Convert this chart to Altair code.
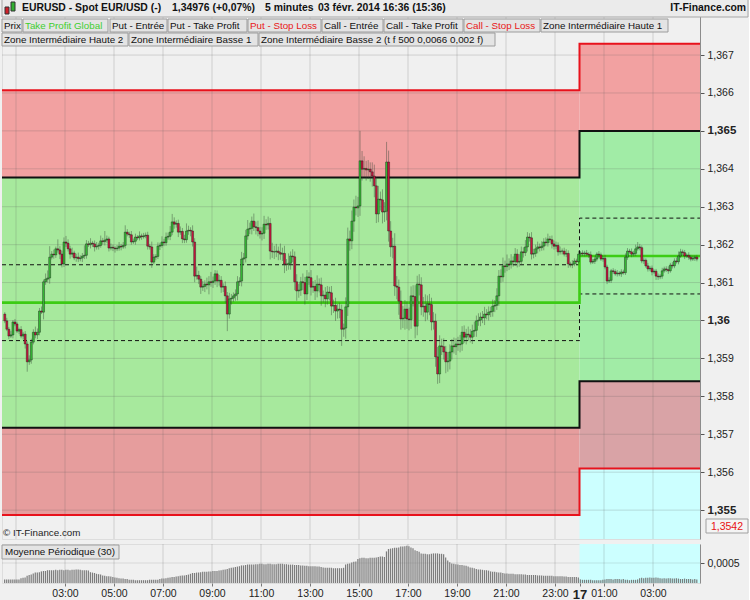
import altair as alt
import pandas as pd

# ---------------------------------------------------------------- data
BASE = 1.35          # prices below are given in pips above this level
PIP = 0.0001
FIRST_BAR = 0.5      # first bar at 00:30, hours counted from midnight of the 16th
STEP = 5 / 60        # 5-minute bars
MIDNIGHT = 24.0      # start of the 17th
X_DOMAIN = [0.4286, 28.918]
Y_DOMAIN = [1.354238, 1.368478]
MA_DOMAIN = [0.0, 0.000975]

open_first = 101.7
close_pips = [
    99.9, 97.7, 95.9, 96.2, 99.6, 99.1, 97.2, 97.6, 95.9, 96.4,
    93.8, 89.1, 89.6, 94.3, 96.9, 96.2, 96.9, 102.5, 102.2, 110.2,
    110.9, 111.2, 116.7, 117.5, 117.3, 118.9, 118.6, 117.5, 114.9, 120.7,
    120.4, 118.9, 117.5, 117.8, 116.5, 116.7, 116.3, 116.5, 117.0, 117.2,
    120.2, 120.0, 120.4, 120.2, 119.4, 119.6, 119.8, 121.0, 120.8, 121.2,
    121.5, 119.1, 119.3, 119.1, 118.9, 119.1, 119.6, 119.4, 119.8, 123.3,
    122.8, 122.6, 120.7, 120.9, 122.0, 121.8, 122.3, 122.1, 122.3, 122.5,
    119.6, 119.4, 115.4, 116.7, 116.9, 119.6, 119.8, 120.7, 120.5, 122.0,
    122.2, 123.3, 126.0, 125.4, 125.6, 123.3, 123.5, 121.5, 121.3, 123.6,
    123.8, 123.6, 120.7, 111.7, 111.9, 110.9, 108.8, 109.0, 109.6, 109.4,
    110.2, 110.0, 110.4, 112.3, 110.4, 110.6, 108.8, 109.0, 106.5, 101.7,
    105.7, 105.9, 106.5, 107.0, 110.2, 110.4, 116.2, 116.5, 122.3, 124.1,
    124.3, 126.2, 124.7, 124.5, 123.6, 122.8, 123.0, 125.4, 125.2, 125.6,
    118.3, 118.1, 118.1, 118.3, 117.9, 117.5, 117.7, 114.9, 114.7, 115.1,
    117.0, 116.8, 110.2, 107.8, 108.0, 110.2, 110.0, 107.0, 111.5, 111.3,
    108.8, 109.0, 107.8, 109.6, 109.4, 106.5, 106.7, 105.7, 107.5, 107.3,
    103.8, 104.0, 102.5, 103.0, 102.8, 97.7, 98.0, 103.6, 121.5, 121.0,
    126.2, 129.9, 129.7, 130.2, 142.1, 139.9, 140.1, 139.7, 139.9, 139.2,
    138.1, 135.5, 128.1, 132.0, 131.8, 128.6, 128.8, 141.8, 123.6, 119.4,
    119.6, 109.1, 108.8, 105.1, 100.4, 100.6, 103.0, 100.4, 100.2, 106.5,
    106.3, 98.5, 109.6, 109.4, 103.6, 103.8, 102.2, 104.4, 104.2, 99.6,
    99.8, 90.4, 85.9, 93.3, 93.1, 91.7, 89.1, 89.3, 91.7, 93.3,
    93.1, 93.8, 93.6, 93.8, 96.9, 95.6, 96.4, 96.2, 95.6, 97.2,
    97.4, 99.9, 100.1, 100.9, 100.7, 101.7, 101.5, 102.2, 102.4, 103.8,
    104.0, 106.5, 111.7, 111.5, 114.4, 114.2, 114.9, 114.7, 115.7, 115.5,
    117.5, 115.4, 115.6, 118.1, 117.9, 119.4, 122.0, 121.8, 117.5, 117.7,
    118.9, 119.4, 119.2, 119.6, 120.7, 120.5, 121.5, 121.3, 120.2, 119.6,
    119.8, 118.1, 118.3, 118.3, 117.5, 117.7, 114.9, 114.7, 114.9, 115.7,
    115.5, 117.5, 117.8, 117.6, 117.8, 117.5, 117.3, 115.4, 115.6, 116.2,
    117.5, 117.3, 116.2, 116.4, 114.1, 110.4, 110.6, 113.1, 112.9, 112.3,
    112.5, 112.3, 112.8, 112.6, 116.7, 118.3, 118.1, 117.5, 117.7, 118.9,
    119.4, 119.2, 115.7, 115.9, 114.4, 113.6, 113.8, 112.8, 113.0, 111.7,
    111.5, 111.7, 113.1, 113.6, 113.4, 113.1, 114.6, 114.4, 115.7, 115.5,
    117.0, 118.1, 117.9, 117.0, 117.2, 116.7, 116.2, 116.4, 116.7, 116.2,
]
# wick lengths beyond the candle body, in pips
upper_wick = [
    0.5, 0.8, 0.6, 1.0, 0.5, 0.8, 0.6, 0.5, 0.9, 0.6,
    0.8, 0.7, 1.2, 0.9, 0.8, 1.5, 1.0, 0.8, 1.2, 0.6,
    1.5, 2.0, 2.9, 0.8, 1.2, 0.6, 2.5, 1.0, 0.9, 1.2,
    1.6, 1.0, 0.8, 1.4, 0.6, 0.9, 1.2, 0.7, 0.8, 2.6,
    1.0, 0.8, 1.3, 0.6, 0.9, 1.1, 0.7, 1.4, 0.8, 2.4,
    0.9, 0.6, 1.0, 0.7, 0.5, 0.8, 1.1, 0.6, 0.9, 1.8,
    0.8, 0.6, 1.0, 0.7, 0.9, 0.5, 1.2, 0.6, 0.8, 0.7,
    0.9, 0.6, 1.4, 0.8, 0.6, 1.0, 0.7, 1.5, 0.8, 1.2,
    1.0, 1.6, 2.1, 1.2, 0.8, 1.0, 1.3, 0.9, 1.1, 2.0,
    1.2, 0.8, 1.5, 1.0, 2.3, 1.2, 0.8, 1.4, 1.0, 1.7,
    1.5, 2.6, 1.2, 1.0, 0.9, 1.4, 1.1, 0.8, 1.3, 1.0,
    1.6, 1.1, 0.9, 1.2, 1.5, 1.0, 1.9, 1.3, 1.6, 2.4,
    1.5, 1.2, 2.0, 1.4, 1.8, 1.1, 1.6, 2.2, 1.3, 1.8,
    1.4, 2.2, 1.6, 1.9, 1.2, 2.4, 1.5, 2.0, 1.3, 2.6,
    1.2, 1.8, 1.4, 2.0, 1.6, 1.3, 2.2, 1.5, 1.8, 1.2,
    2.0, 1.4, 1.7, 2.3, 1.5, 1.9, 1.2, 2.1, 1.6, 1.4,
    1.8, 1.5, 2.0, 1.3, 1.7, 1.4, 1.2, 2.5, 3.0, 2.2,
    2.8, 2.0, 3.0, 2.4, 7.9, 2.6, 3.2, 2.0, 2.4, 1.8,
    2.5, 3.0, 2.2, 3.5, 2.0, 2.8, 2.4, 5.3, 3.0, 2.6,
    2.2, 3.4, 2.6, 2.0, 2.8, 3.2, 2.4, 2.0, 3.0, 2.5,
    2.8, 3.0, 2.2, 2.6, 2.0, 2.4, 3.1, 2.2, 2.6, 1.8,
    2.4, 2.0, 2.6, 2.8, 1.9, 2.2, 1.6, 2.4, 2.0, 1.8,
    2.2, 1.5, 1.9, 2.4, 1.6, 1.8, 1.4, 2.0, 1.5, 1.7,
    2.3, 1.4, 1.8, 1.2, 1.6, 1.9, 1.3, 1.5, 1.2, 1.7,
    1.4, 2.0, 1.6, 1.8, 2.2, 1.4, 2.5, 1.5, 1.8, 1.2,
    1.6, 1.3, 1.9, 1.4, 1.2, 1.8, 1.3, 1.0, 1.5, 1.2,
    1.1, 1.4, 0.9, 1.3, 1.0, 1.2, 1.4, 0.8, 1.1, 0.9,
    1.0, 0.8, 1.2, 0.7, 0.9, 1.1, 0.8, 0.6, 1.0, 0.7,
    0.6, 0.9, 0.5, 0.7, 0.6, 0.8, 0.5, 0.9, 0.6, 0.7,
    0.5, 0.8, 0.6, 0.7, 0.9, 0.6, 0.8, 0.5, 0.7, 0.6,
    0.8, 0.5, 0.7, 0.6, 1.0, 0.8, 0.6, 0.9, 0.7, 1.1,
    1.3, 0.8, 0.6, 0.7, 0.5, 0.8, 0.6, 0.7, 0.5, 0.6,
    0.7, 0.5, 0.8, 0.6, 0.7, 0.9, 0.6, 0.8, 0.7, 0.9,
    1.2, 0.8, 0.6, 0.7, 0.5, 0.8, 0.6, 0.7, 0.5, 0.6,
]
lower_wick = [
    0.6, 0.5, 0.8, 0.5, 0.9, 0.6, 0.5, 0.8, 0.6, 0.9,
    1.2, 2.6, 0.8, 1.0, 0.6, 0.9, 1.1, 0.8, 0.5, 1.9,
    0.8, 0.9, 1.5, 0.6, 1.0, 0.8, 0.7, 1.3, 0.9, 0.8,
    1.0, 0.7, 1.2, 0.8, 0.6, 1.0, 0.9, 0.7, 1.1, 0.8,
    0.9, 0.6, 1.0, 0.8, 1.2, 0.7, 0.9, 0.6, 0.8, 1.0,
    0.7, 0.9, 0.6, 0.8, 1.0, 0.6, 0.7, 0.9, 0.5, 0.8,
    0.6, 0.8, 0.7, 0.5, 0.9, 0.6, 0.7, 0.8, 0.5, 0.6,
    0.9, 0.7, 1.5, 0.6, 0.8, 0.7, 1.0, 0.6, 0.9, 0.8,
    0.7, 1.0, 0.8, 1.2, 0.9, 1.3, 0.7, 1.1, 0.9, 0.8,
    1.0, 1.4, 1.2, 1.6, 0.9, 1.3, 1.8, 1.0, 1.5, 1.2,
    2.5, 1.1, 1.4, 1.0, 1.6, 1.2, 1.5, 1.3, 1.8, 4.5,
    1.2, 1.5, 1.0, 1.3, 1.7, 1.1, 1.4, 1.6, 1.2, 1.0,
    1.3, 1.6, 1.1, 1.8, 1.4, 1.2, 1.7, 1.5, 1.3, 1.2,
    2.2, 1.6, 1.9, 1.4, 2.0, 1.5, 1.8, 2.4, 1.6, 1.3,
    1.7, 1.4, 2.2, 2.6, 1.8, 1.5, 2.0, 2.8, 1.6, 1.9,
    2.2, 1.5, 2.4, 1.7, 2.0, 2.6, 1.8, 2.2, 1.5, 2.0,
    2.4, 1.8, 2.6, 2.0, 2.2, 4.4, 2.0, 2.8, 2.4, 2.6,
    2.2, 2.8, 2.0, 2.4, 2.6, 3.0, 2.2, 2.8, 2.4, 2.6,
    2.8, 3.0, 2.4, 2.2, 2.8, 3.0, 2.6, 2.4, 2.8, 2.6,
    3.0, 2.6, 3.2, 3.6, 2.8, 2.4, 3.0, 2.6, 2.8, 2.4,
    2.6, 3.2, 2.4, 2.8, 2.2, 2.6, 2.4, 2.0, 2.8, 2.2,
    2.0, 2.6, 2.6, 2.4, 2.2, 2.0, 3.0, 2.6, 2.2, 2.0,
    1.8, 2.2, 1.6, 2.0, 1.8, 1.5, 1.9, 1.6, 1.4, 1.8,
    1.5, 1.7, 1.3, 1.6, 1.4, 1.9, 1.2, 1.5, 1.3, 1.4,
    1.6, 1.2, 2.6, 1.5, 1.3, 1.6, 1.2, 1.4, 1.0, 1.3,
    1.1, 1.4, 1.2, 1.0, 1.3, 0.9, 1.2, 1.0, 1.4, 1.1,
    0.9, 1.2, 1.0, 0.8, 1.1, 0.9, 1.0, 0.8, 1.2, 0.9,
    0.8, 1.0, 0.7, 0.9, 0.6, 0.8, 1.0, 0.7, 0.9, 0.6,
    0.7, 0.5, 0.8, 0.6, 0.7, 0.5, 0.8, 0.6, 0.5, 0.7,
    0.6, 0.8, 0.5, 0.7, 0.6, 0.8, 0.5, 0.7, 0.6, 0.5,
    0.7, 0.6, 0.8, 0.5, 0.6, 0.7, 0.5, 0.8, 0.6, 0.7,
    0.5, 0.7, 0.6, 0.8, 0.5, 0.7, 0.6, 0.9, 0.5, 1.0,
    0.8, 0.6, 0.7, 0.5, 0.6, 0.8, 0.5, 0.7, 0.6, 0.5,
    0.7, 0.5, 0.6, 0.8, 0.5, 0.7, 0.6, 0.5, 0.7, 0.6,
]
# "Moyenne Périodique (30)" indicator, in pips
range_ma = [
    0.9, 0.9, 0.9, 0.9, 0.9, 0.9, 0.9, 0.9, 1.2, 1.3,
    1.4, 1.8, 2.0, 2.1, 2.4, 2.6, 2.6, 2.7, 2.9, 3.0,
    3.0, 3.2, 3.2, 3.2, 3.2, 3.3, 3.2, 3.3, 3.3, 3.2,
    3.3, 3.3, 3.2, 3.3, 3.3, 3.4, 3.4, 3.3, 3.2, 3.2,
    3.2, 3.1, 2.7, 2.6, 2.5, 2.3, 2.2, 2.1, 1.9, 1.8,
    1.7, 1.7, 1.6, 1.5, 1.4, 1.3, 1.2, 1.1, 1.1, 1.0,
    1.0, 0.8, 0.8, 0.8, 0.7, 0.7, 0.7, 0.7, 0.7, 0.7,
    0.7, 0.8, 0.8, 0.8, 0.8, 0.8, 1.0, 1.1, 1.1, 1.2,
    1.3, 1.4, 1.5, 1.5, 1.6, 1.7, 1.8, 1.9, 1.9, 2.0,
    2.1, 2.3, 2.5, 2.5, 2.6, 2.6, 2.7, 2.8, 2.8, 2.8,
    2.9, 2.9, 3.0, 3.0, 3.0, 3.1, 3.2, 3.3, 3.4, 3.5,
    3.7, 3.8, 3.9, 4.0, 4.1, 4.2, 4.4, 4.4, 4.5, 4.6,
    4.6, 4.6, 4.6, 4.7, 4.7, 4.8, 4.8, 4.7, 4.7, 4.8,
    4.8, 4.7, 4.7, 4.7, 4.8, 4.8, 4.8, 4.7, 4.7, 4.6,
    4.6, 4.6, 4.5, 4.5, 4.5, 4.4, 4.4, 4.3, 4.3, 4.2,
    4.2, 4.2, 4.2, 4.1, 4.1, 4.0, 3.9, 3.8, 3.8, 3.8,
    3.8, 3.7, 3.7, 3.7, 3.7, 3.7, 3.8, 4.6, 4.8, 4.9,
    5.1, 5.3, 5.4, 6.0, 6.2, 6.3, 6.3, 6.2, 6.2, 6.3,
    6.3, 6.3, 6.4, 6.5, 6.6, 6.6, 6.5, 7.9, 8.5, 8.6,
    8.7, 8.8, 8.8, 8.9, 9.1, 9.1, 9.2, 9.3, 9.2, 8.9,
    8.7, 8.2, 8.0, 7.8, 7.4, 7.3, 7.3, 7.2, 7.2, 7.3,
    7.4, 7.4, 7.4, 7.3, 7.3, 7.2, 6.4, 5.6, 5.2, 4.9,
    4.8, 4.7, 4.6, 4.5, 4.5, 4.4, 4.3, 4.1, 3.9, 3.8,
    3.7, 3.5, 3.4, 3.4, 3.3, 3.2, 3.2, 3.1, 2.9, 2.8,
    2.8, 2.7, 2.6, 2.6, 2.5, 2.4, 2.4, 2.3, 2.3, 2.3,
    2.2, 2.2, 2.2, 2.2, 2.1, 2.1, 2.0, 2.0, 2.0, 2.0,
    2.0, 1.9, 1.9, 1.9, 1.8, 1.8, 1.8, 1.8, 1.8, 1.7,
    1.7, 1.7, 1.7, 1.7, 1.6, 1.6, 1.5, 1.5, 1.5, 1.5,
    1.5, 1.4, 0.9, 0.8, 0.8, 0.8, 0.8, 0.8, 0.7, 0.7,
    0.7, 0.7, 0.7, 0.8, 0.9, 1.0, 1.0, 1.0, 0.9, 1.0,
    1.0, 1.0, 0.9, 1.0, 0.8, 0.8, 0.7, 0.8, 0.8, 0.8,
    0.9, 1.2, 1.3, 1.2, 1.3, 1.3, 1.4, 1.3, 1.3, 1.4,
    1.3, 1.2, 1.1, 1.2, 1.1, 1.2, 1.2, 1.1, 1.1, 1.2,
    1.1, 1.0, 1.0, 1.1, 1.0, 1.0, 1.0, 0.9, 1.0, 0.9,
]

# strategy levels for each session: stop loss, take profit, intermediate zones, centre
level_names = ["stop_hi", "tp_hi", "zone_hi", "centre", "zone_lo", "tp_lo", "stop_lo"]
levels_day1 = [1.36607, 1.36377, 1.36147, 1.36047, 1.35947, 1.35717, 1.35487]
levels_day2 = [1.36730, 1.36500, 1.36270, 1.36170, 1.36070, 1.35840, 1.35610]

y_ticks = [1.355, 1.356, 1.357, 1.358, 1.359, 1.360, 1.361,
           1.362, 1.363, 1.364, 1.365, 1.366, 1.367]
grid_hours = [1, 3, 5, 7, 9, 11, 13, 15, 17, 19, 21, 23, 25, 27]
label_hours = [3, 5, 7, 9, 11, 13, 15, 17, 19, 21, 23, 24, 25, 27]

# ---------------------------------------------------------------- styling
FONT = "Liberation Sans"
BG = "#f0f0f0"
UP, DOWN = "#36bd36", "#c8163f"
RED_LINE, GREEN_LINE = "#e8121c", "#3ccc14"
ZONE_RED, ZONE_RED_LOW, ZONE_GREEN = "#f2a1a1", "#e69d9d", "#a7e99d"
ZONE_RED2, ZONE_RED_LOW2, ZONE_GREEN2, CYAN = "#f2a1a1", "#d9a3a6", "#a1eca6", "#ccffff"
LEGEND_SIZE = 9.8

XS = alt.Scale(domain=X_DOMAIN, nice=False, zero=False)
YS = alt.Scale(domain=Y_DOMAIN, nice=False, zero=False)
W, H_MAIN, H_LOW = 698, 540, 39

bold_test = "abs(datum.value * 200 - round(datum.value * 200)) < 0.001"
y_axis = alt.Axis(
    orient="right", values=y_ticks, title=None, grid=False,
    labelExpr="replace(format(datum.value, '.3~f'), '.', ',')",
    labelFontSize={"condition": {"test": bold_test, "value": 11.5}, "value": 10.5},
    labelFontWeight={"condition": {"test": bold_test, "value": "bold"}, "value": "normal"},
    labelColor="#222222", labelPadding=3, tickSize=4, tickColor="#555555",
    domainColor="#8c8c8c", labelFont=FONT,
)

# ---------------------------------------------------------------- tables
bars = []
prev = open_first
for i, c in enumerate(close_pips):
    t = FIRST_BAR + i * STEP
    o = prev
    bars.append({
        "t0": t + 0.002, "t1": t + STEP - 0.002, "tm": t + STEP / 2,
        "open": BASE + o * PIP, "close": BASE + c * PIP,
        "high": BASE + (max(o, c) + upper_wick[i]) * PIP,
        "low": BASE + (min(o, c) - lower_wick[i]) * PIP,
        "fill": UP if c >= o else DOWN,
    })
    prev = c
bars = pd.DataFrame(bars)

ma = pd.DataFrame({
    "t0": [FIRST_BAR + i * STEP + 0.012 for i in range(len(range_ma))],
    "t1": [FIRST_BAR + i * STEP + 0.062 for i in range(len(range_ma))],
    "ma": [v * PIP for v in range_ma],
})

d1 = dict(zip(level_names, levels_day1))
d2 = dict(zip(level_names, levels_day2))
zones = pd.DataFrame([
    {"x0": X_DOMAIN[0], "x1": MIDNIGHT, "lo": d1["tp_hi"], "hi": d1["stop_hi"], "fill": ZONE_RED},
    {"x0": X_DOMAIN[0], "x1": MIDNIGHT, "lo": d1["tp_lo"], "hi": d1["tp_hi"], "fill": ZONE_GREEN},
    {"x0": X_DOMAIN[0], "x1": MIDNIGHT, "lo": d1["stop_lo"], "hi": d1["tp_lo"], "fill": ZONE_RED_LOW},
    {"x0": MIDNIGHT, "x1": X_DOMAIN[1], "lo": d2["tp_hi"], "hi": d2["stop_hi"], "fill": ZONE_RED2},
    {"x0": MIDNIGHT, "x1": X_DOMAIN[1], "lo": d2["tp_lo"], "hi": d2["tp_hi"], "fill": ZONE_GREEN2},
    {"x0": MIDNIGHT, "x1": X_DOMAIN[1], "lo": d2["stop_lo"], "hi": d2["tp_lo"], "fill": ZONE_RED_LOW2},
    {"x0": MIDNIGHT, "x1": X_DOMAIN[1], "lo": Y_DOMAIN[0], "hi": d2["stop_lo"], "fill": CYAN},
])

steps = []
for name in level_names:
    for x, v in [(X_DOMAIN[0], d1[name]), (MIDNIGHT, d2[name]), (X_DOMAIN[1], d2[name])]:
        steps.append({"line": name, "h": x, "v": v})
steps = pd.DataFrame(steps)

# ---------------------------------------------------------------- main panel
def step_layer(names, color, width, dash=None):
    kw = {"interpolate": "step-after", "color": color, "strokeWidth": width}
    if dash:
        kw["strokeDash"] = dash
    return alt.Chart(steps[steps["line"].isin(names)]).mark_line(**kw).encode(
        x=alt.X("h:Q", scale=XS, axis=None),
        y=alt.Y("v:Q", scale=YS, axis=y_axis),
        detail="line:N",
    )

zone_layer = alt.Chart(zones).mark_rect().encode(
    x=alt.X("x0:Q", scale=XS, axis=None), x2="x1",
    y=alt.Y("lo:Q", scale=YS, axis=y_axis), y2="hi",
    color=alt.Color("fill:N", scale=None),
)
vgrid = alt.Chart(pd.DataFrame({"h": grid_hours})).mark_rule(
    color="#5a5a5a", opacity=0.22, strokeWidth=1
).encode(x=alt.X("h:Q", scale=XS, axis=None))
hgrid = alt.Chart(pd.DataFrame({"v": y_ticks})).mark_rule(
    color="#5a5a5a", opacity=0.22, strokeWidth=1
).encode(y=alt.Y("v:Q", scale=YS, axis=y_axis))

wicks = alt.Chart(bars).mark_rule(color="#3a4a3a", opacity=0.45, strokeWidth=1).encode(
    x=alt.X("tm:Q", scale=XS, axis=None),
    y=alt.Y("low:Q", scale=YS, axis=y_axis), y2="high",
)
bodies = alt.Chart(bars).mark_rect(stroke="#141414", strokeWidth=0.4).encode(
    x=alt.X("t0:Q", scale=XS, axis=None), x2="t1",
    y=alt.Y("open:Q", scale=YS, axis=y_axis), y2="close",
    color=alt.Color("fill:N", scale=None),
)

# header band, legend buttons and small boxes (pixel layout)
boxes = pd.DataFrame([
    {"x0": 0, "x1": 746, "y0": 0, "y1": 18, "fill": "#ebebeb", "stroke": "#a6a6a6"},
    {"x0": 0, "x1": 20, "y0": 20, "y1": 33, "fill": "#e4e4e4", "stroke": "#9c9c9c"},
    {"x0": 21, "x1": 106, "y0": 20, "y1": 33, "fill": "#e4e4e4", "stroke": "#9c9c9c"},
    {"x0": 108, "x1": 165, "y0": 20, "y1": 33, "fill": "#e4e4e4", "stroke": "#9c9c9c"},
    {"x0": 166, "x1": 245, "y0": 20, "y1": 33, "fill": "#e4e4e4", "stroke": "#9c9c9c"},
    {"x0": 246, "x1": 319, "y0": 20, "y1": 33, "fill": "#e4e4e4", "stroke": "#9c9c9c"},
    {"x0": 320, "x1": 381, "y0": 20, "y1": 33, "fill": "#e4e4e4", "stroke": "#9c9c9c"},
    {"x0": 382, "x1": 461, "y0": 20, "y1": 33, "fill": "#e4e4e4", "stroke": "#9c9c9c"},
    {"x0": 462, "x1": 538, "y0": 20, "y1": 33, "fill": "#e4e4e4", "stroke": "#9c9c9c"},
    {"x0": 539, "x1": 666, "y0": 20, "y1": 33, "fill": "#e4e4e4", "stroke": "#9c9c9c"},
    {"x0": 0, "x1": 126, "y0": 34, "y1": 47, "fill": "#e4e4e4", "stroke": "#9c9c9c"},
    {"x0": 127, "x1": 256, "y0": 34, "y1": 47, "fill": "#e4e4e4", "stroke": "#9c9c9c"},
    {"x0": 257, "x1": 493, "y0": 34, "y1": 47, "fill": "#e4e4e4", "stroke": "#9c9c9c"},
    {"x0": 704, "x1": 746, "y0": 520, "y1": 534, "fill": "#f4f4f4", "stroke": "#a0a0a0"},
    {"x0": 3, "x1": 7, "y0": 8, "y1": 15, "fill": "#d0202a", "stroke": "#333333"},
    {"x0": 9, "x1": 13, "y0": 3, "y1": 12, "fill": "#30b030", "stroke": "#333333"},
])
box_layer = alt.Chart(boxes).mark_rect(strokeWidth=1).encode(
    x=alt.X("x0:Q", scale=None), x2="x1",
    y=alt.Y("y0:Q", scale=None), y2="y1",
    color=alt.Color("fill:N", scale=None),
    stroke=alt.Stroke("stroke:N", scale=None),
)

legend_text = pd.DataFrame([
    {"x": 2, "y": 27, "text": "Prix", "c": "#111111"},
    {"x": 23, "y": 27, "text": "Take Profit Global", "c": "#3fcf2f"},
    {"x": 110, "y": 27, "text": "Put - Entrée", "c": "#111111"},
    {"x": 168, "y": 27, "text": "Put - Take Profit", "c": "#111111"},
    {"x": 248, "y": 27, "text": "Put - Stop Loss", "c": "#e81818"},
    {"x": 322, "y": 27, "text": "Call - Entrée", "c": "#111111"},
    {"x": 384, "y": 27, "text": "Call - Take Profit", "c": "#111111"},
    {"x": 464, "y": 27, "text": "Call - Stop Loss", "c": "#e81818"},
    {"x": 541, "y": 27, "text": "Zone Intermédiaire Haute 1", "c": "#111111"},
    {"x": 2, "y": 41, "text": "Zone Intermédiaire Haute 2", "c": "#111111"},
    {"x": 129, "y": 41, "text": "Zone Intermédiaire Basse 1", "c": "#111111"},
    {"x": 259, "y": 41, "text": "Zone Intermédiaire Basse 2 (t f 500 0,0066 0,002 f)", "c": "#111111"},
    {"x": 1, "y": 534, "text": "© IT-Finance.com", "c": "#222222"},
])
legend_layer = alt.Chart(legend_text).mark_text(
    align="left", baseline="middle", font=FONT, fontSize=LEGEND_SIZE
).encode(
    x=alt.X("x:Q", scale=None), y=alt.Y("y:Q", scale=None),
    text="text:N", color=alt.Color("c:N", scale=None),
)

header_text = pd.DataFrame([
    {"x": 20, "text": "EURUSD - Spot EUR/USD (-)"},
    {"x": 170, "text": "1,34976 (+0,07%)"},
    {"x": 263, "text": "5 minutes"},
    {"x": 316, "text": "03 févr. 2014 16:36 (15:36)"},
])
header_layer = alt.Chart(header_text).mark_text(
    align="left", baseline="middle", font=FONT, fontSize=10.4, fontWeight="bold", color="#111111"
).encode(x=alt.X("x:Q", scale=None), y=alt.value(9), text="text:N")
brand_layer = alt.Chart(pd.DataFrame({"t": ["IT-Finance.com"]})).mark_text(
    align="right", baseline="middle", font=FONT, fontSize=10.4, fontWeight="bold", color="#111111"
).encode(x=alt.value(744), y=alt.value(9), text="t:N")
price_tag = alt.Chart(pd.DataFrame({"t": ["1,3542"]})).mark_text(
    align="center", baseline="middle", font=FONT, fontSize=10.5, color="#e81010"
).encode(x=alt.value(725), y=alt.value(527.5), text="t:N")

main = alt.layer(
    zone_layer, vgrid, hgrid,
    step_layer(["zone_hi", "zone_lo"], "#111111", 1, [4, 3]),
    step_layer(["centre"], GREEN_LINE, 2.6),
    step_layer(["tp_hi", "tp_lo"], "#111111", 2),
    step_layer(["stop_hi", "stop_lo"], RED_LINE, 2),
    wicks, bodies,
    box_layer, legend_layer, header_layer, brand_layer, price_tag,
).properties(width=W, height=H_MAIN)

# ---------------------------------------------------------------- lower panel
x_axis = alt.Axis(
    values=label_hours, title=None, grid=False, domain=False,
    labelExpr="datum.value == 24 ? '17' : (datum.value < 24 ? "
              "(datum.value < 10 ? '0' : '') + datum.value + ':00' : "
              "'0' + (datum.value - 24) + ':00')",
    labelFontSize={"condition": {"test": "datum.value == 24", "value": 13}, "value": 10.5},
    labelFontWeight={"condition": {"test": "datum.value == 24", "value": "bold"}, "value": "normal"},
    labelColor="#222222", labelPadding=2, tickSize=3, tickColor="#777777",
    labelOverlap=False, labelFlush=False, labelFont=FONT,
)
ma_axis = alt.Axis(
    orient="right", values=[0.0005], labelExpr="'0,0005'", title=None, grid=False,
    labelFontSize=10.5, labelColor="#222222", labelPadding=3, tickSize=4,
    tickColor="#555555", domainColor="#8c8c8c", labelFont=FONT,
)
MS = alt.Scale(domain=MA_DOMAIN, nice=False, zero=False)

cyan_low = alt.Chart(pd.DataFrame({"x0": [MIDNIGHT], "x1": [X_DOMAIN[1]]})).mark_rect(
    color=CYAN
).encode(x=alt.X("x0:Q", scale=XS, axis=x_axis), x2="x1", y=alt.value(0), y2=alt.value(H_LOW))
low_vgrid = alt.Chart(pd.DataFrame({"h": grid_hours})).mark_rule(
    color="#5a5a5a", opacity=0.22
).encode(x=alt.X("h:Q", scale=XS, axis=x_axis))
low_hgrid = alt.Chart(pd.DataFrame({"v": [0.0005]})).mark_rule(
    color="#5a5a5a", opacity=0.15
).encode(y=alt.Y("v:Q", scale=MS, axis=ma_axis))
ma_bars = alt.Chart(ma).mark_rect(color="#707070", opacity=0.9).encode(
    x=alt.X("t0:Q", scale=XS, axis=x_axis), x2="t1",
    y=alt.Y("ma:Q", scale=MS, axis=ma_axis), y2=alt.datum(0),
)
ma_box = alt.Chart(pd.DataFrame({"x0": [0], "x1": [117], "y0": [1], "y1": [15]})).mark_rect(
    fill="#e4e4e4", stroke="#9c9c9c", strokeWidth=1
).encode(x=alt.X("x0:Q", scale=None), x2="x1", y=alt.Y("y0:Q", scale=None), y2="y1")
ma_label = alt.Chart(pd.DataFrame({"t": ["Moyenne Périodique (30)"]})).mark_text(
    align="left", baseline="middle", font=FONT, fontSize=LEGEND_SIZE, color="#111111"
).encode(x=alt.value(3), y=alt.value(8), text="t:N")

lower = alt.layer(cyan_low, low_vgrid, low_hgrid, ma_bars, ma_box, ma_label).properties(
    width=W, height=H_LOW
)

chart = alt.vconcat(main, lower, spacing=3).properties(
    padding={"left": -4, "top": -2, "right": 0, "bottom": 0}, background=BG
).configure_view(stroke="#8c8c8c", fill=BG).configure(font=FONT)

chart.save("out.html", embed_options={"renderer": "svg", "actions": False})
